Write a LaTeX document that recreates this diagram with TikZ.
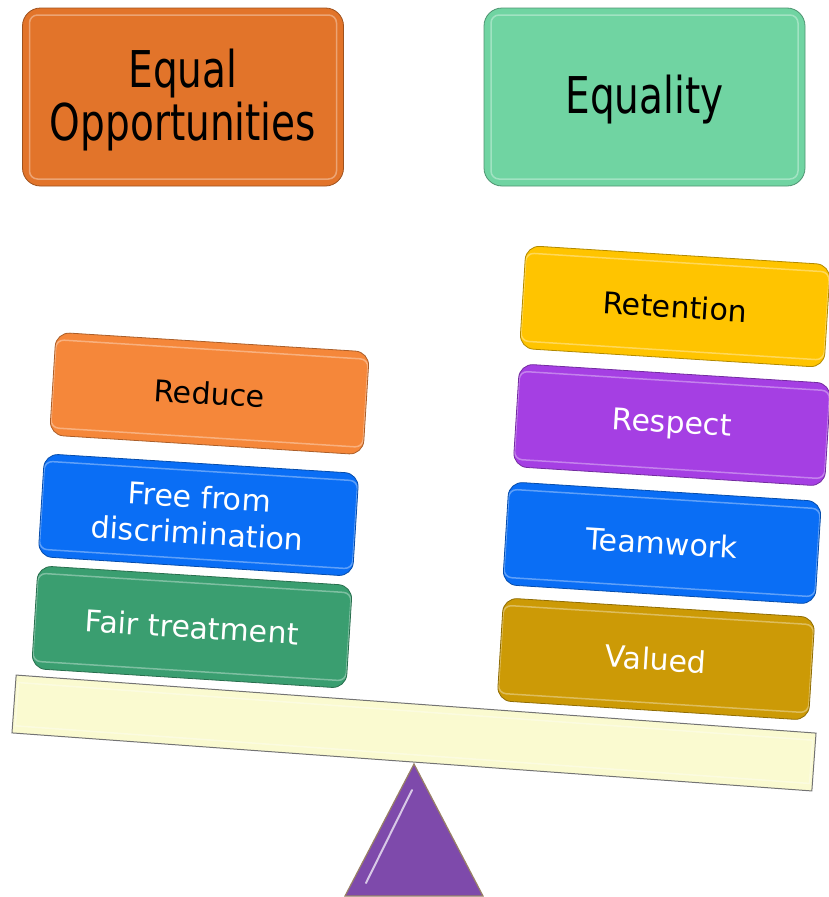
\documentclass[tikz,border=0pt]{standalone}
\usepackage{fontspec}
\setmainfont{DejaVu Sans}
\usepackage{graphicx}

\definecolor{oppOrange}{RGB}{226,116,42}
\definecolor{eqGreen}{RGB}{112,212,162}
\definecolor{reduceOrange}{RGB}{245,135,58}
\definecolor{freeBlue}{RGB}{10,110,245}
\definecolor{fairGreen}{RGB}{58,158,112}
\definecolor{retYellow}{RGB}{255,196,0}
\definecolor{respPurple}{RGB}{165,63,227}
\definecolor{valGold}{RGB}{204,154,6}
\definecolor{beamYellow}{RGB}{250,250,208}
\definecolor{pivotPurple}{RGB}{126,74,171}

\newcommand{\tallText}[1]{\raisebox{-5pt}[\height][\depth]{\scalebox{1}[1.3]{\begin{tabular}{@{}c@{}}#1\end{tabular}}}}

\begin{document}
\begin{tikzpicture}[x=1pt, y=-1pt,
          bevel/.style ={path picture={\draw[white, opacity=.35, line width=1.5pt, rounded corners=#1]
                ([shift={(7pt,-7pt)}]path picture bounding box.north west) rectangle
                ([shift={(-7pt,7pt)}]path picture bounding box.south east);}},
          block/.style ={draw=#1!70!black, fill=#1, line width=0.8pt, rounded corners=14pt,
                inner sep=0pt, align=center, bevel=8pt},
          title/.style ={block=#1, rounded corners=18pt, minimum width=321pt, minimum height=178pt,
                font=\fontsize{39}{38}\selectfont},
          stack/.style ={block=#1, rotate=-3.6, minimum height=103pt,
                font=\fontsize{30}{36}\selectfont}
          ]
\useasboundingbox (0,0) rectangle (828,897);

% titles
\node[title=oppOrange] (eqopp) at (183,97) {\tallText{Equal\\Opportunities}};
\node[title=eqGreen] (equality) at (644.5,97) {\tallText{Equality}};

% seesaw
\draw[draw=gray!60!brown, line width=1.2pt, fill=pivotPurple] (414,764) -- (483,896) -- (345,896) -- cycle;
\draw[white!70!pivotPurple, line width=2pt, line cap=round] (366,883) -- (412,790);
\node[draw=gray!90!black, line width=1pt, fill=beamYellow, minimum width=802pt, minimum height=58pt,
      rotate=-4.15, bevel=0pt] (beam) at (414,733) {};

% left pan
\foreach \name/\x/\y/\w/\col/\txt/\tcol in {
    reduce/209.5/393.5/314/reduceOrange/{Reduce}/black,
    free/198.5/515/315/freeBlue/{Free from\\discrimination}/white,
    fair/192/627/315/fairGreen/{Fair treatment}/white}{
\node[stack=\col, minimum width=\w pt, text=\tcol] (\name) at (\x,\y) {\txt};
}

% right pan
\foreach \name/\x/\y/\w/\col/\txt/\tcol in {
    retention/675/306.5/305/retYellow/{Retention}/black,
    respect/672/425/312/respPurple/{Respect}/white,
    teamwork/662/543/313/freeBlue/{Teamwork}/white,
    valued/656/659/312/valGold/{Valued}/white}{
\node[stack=\col, minimum width=\w pt, text=\tcol] (\name) at (\x,\y) {\txt};
}
\end{tikzpicture}
\end{document}
